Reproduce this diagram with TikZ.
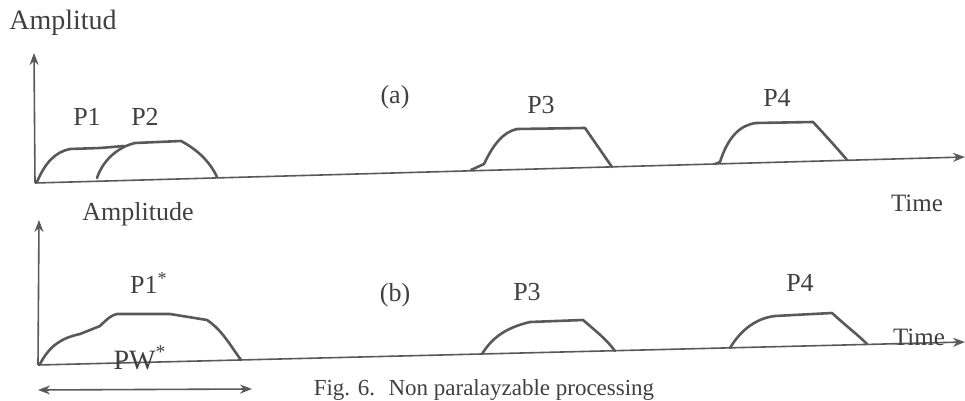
\documentclass[tikz,border=0pt]{standalone}
\usepackage{fontspec}
\setmainfont{Liberation Serif}
\usetikzlibrary{arrows.meta, positioning}

\begin{document}
\begin{tikzpicture}[x=0.5pt, y=-0.5pt,
  axis/.style={draw=black!65, line width=0.8pt, -{Stealth[length=6pt, width=4.5pt]}},
  pulse/.style={draw=black!65, line width=1.3pt, line join=round, line cap=round},
  lbl/.style={inner sep=0pt, text=black!75, font=\fontsize{13}{15}\selectfont}]
\useasboundingbox (0,0) rectangle (965,401);
% panel (a)
\coordinate (orgA) at (35,183);
\coordinate (yA) at (34,53);
\coordinate (xA) at (965,157);
\draw[axis] (orgA) -- (yA);
\draw[axis] (orgA) -- (xA);
\node[lbl, font=\fontsize{14}{16}\selectfont] (ampA) at (63,23) {Amplitud};
\node[lbl] (labA) at (395,97) {(a)};
\node[lbl] (pA1) at (87,117) {P1};
\node[lbl] (pA2) at (145,117) {P2};
\node[lbl] (pA3) at (541,105) {P3};
\node[lbl] (pA4) at (777,98) {P4};
\node[lbl, font=\fontsize{12.5}{15}\selectfont] (timeA) at (917,203) {Time};
\draw[pulse] (37,182) .. controls (45,163) and (55,152) .. (70,149) -- (100,148) -- (124,146);
\draw[pulse] (97,178) .. controls (103,160) and (118,147) .. (135,143) -- (181,141)
  .. controls (198,150) and (210,162) .. (217,177);
\draw[pulse] (471,170) -- (484,164) .. controls (493,145) and (503,132) .. (517,129) -- (585,128)
  -- (612,167);
\draw[pulse] (715,164) -- (720,162) .. controls (728,137) and (740,125) .. (756,123) -- (813,122)
  .. controls (825,135) and (837,148) .. (847,160);
% panel (b)
\coordinate (orgB) at (38,365);
\coordinate (yB) at (39,220);
\coordinate (xB) at (965,342);
\draw[axis] (orgB) -- (yB);
\draw[axis] (orgB) -- (xB);
\node[lbl] (ampB) at (138,214) {Amplitude};
\node[lbl] (labB) at (395,295) {(b)};
\node[lbl] (pB1) at (149,283) {P1\textsuperscript{*}};
\node[lbl, font=\fontsize{14}{16}\selectfont] (pwB) at (140,358) {PW\textsuperscript{*}};
\node[lbl] (pB3) at (527,292) {P3};
\node[lbl] (pB4) at (800,283) {P4};
\node[lbl, font=\fontsize{12.5}{15}\selectfont] (timeB) at (919,337) {Time};
\draw[pulse] (40,364) .. controls (50,345) and (62,338) .. (80,334) -- (100,326)
  .. controls (108,318) and (112,315) .. (117,314) -- (170,314) -- (207,320)
  .. controls (222,330) and (230,345) .. (241,360);
\draw[pulse] (482,354) .. controls (492,338) and (505,328) .. (530,322) -- (583,320)
  .. controls (597,332) and (607,340) .. (615,351);
\draw[pulse] (730,348) .. controls (742,328) and (758,318) .. (775,316) -- (832,313)
  .. controls (845,325) and (858,335) .. (867,344);
\coordinate (pwL) at (38,390);
\coordinate (pwR) at (252,389);
\draw[draw=black!65, line width=0.8pt, {Stealth[length=6pt, width=4.5pt]}-{Stealth[length=6pt, width=4.5pt]}] (pwL) -- (pwR);
\node[lbl, font=\fontsize{11.5}{14}\selectfont] (cap) at (484,390) {Fig. 6. \ Non paralayzable processing};
\end{tikzpicture}
\end{document}
